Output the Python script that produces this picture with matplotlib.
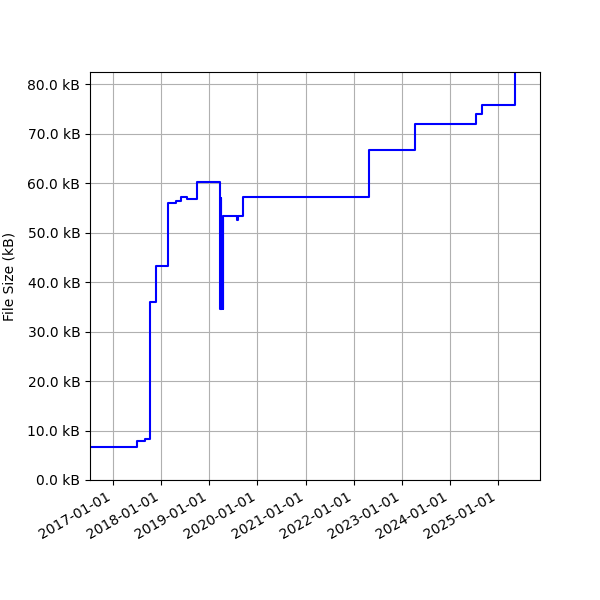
import matplotlib
matplotlib.use("Agg")
import matplotlib.pyplot as plt
import matplotlib.dates as mdates
import matplotlib.ticker as mticker
import numpy as np

# commit dates and file size (kB)
dates = ["2016-07-15", "2017-07-01", "2017-09-01", "2017-10-10", "2017-11-25", "2018-02-25",
         "2018-04-20", "2018-06-01", "2018-06-20", "2018-07-15", "2018-10-01",
         "2019-03-25", "2019-03-30", "2019-04-03", "2019-04-08", "2019-04-12", "2019-04-16",
         "2019-08-01", "2019-08-10", "2019-09-15", "2022-05-01", "2023-04-15",
         "2024-07-20", "2024-09-01", "2025-05-10"]
sizes = [6.7, 7.9, 8.2, 36.0, 43.3, 56.0,
         56.5, 57.2, 57.2, 56.8, 60.2,
         34.5, 57.0, 34.5, 53.0, 34.5, 53.3,
         52.6, 53.3, 57.3, 66.7, 71.9,
         74.0, 75.9, 82.5]

x = np.array(dates, dtype="datetime64[D]")

fig, ax = plt.subplots(figsize=(6, 6), dpi=100)
ax.plot(x, sizes, color="blue", drawstyle="steps-post")
ax.set_xlim(np.datetime64("2016-07-10"), np.datetime64("2025-11-15"))
ax.set_ylim(0, 82.5)
ax.xaxis.set_major_locator(mdates.YearLocator())
ax.xaxis.set_major_formatter(mdates.DateFormatter("%Y-%m-%d"))
ax.yaxis.set_major_locator(mticker.MultipleLocator(10))
ax.yaxis.set_major_formatter(mticker.FuncFormatter(lambda v, p: f"{v:.1f} kB"))
ax.set_ylabel("File Size (kB)", labelpad=8)
ax.grid(True)
fig.autofmt_xdate()
fig.subplots_adjust(left=0.15, right=0.9, top=0.88, bottom=0.2)
fig.savefig("out.png")
